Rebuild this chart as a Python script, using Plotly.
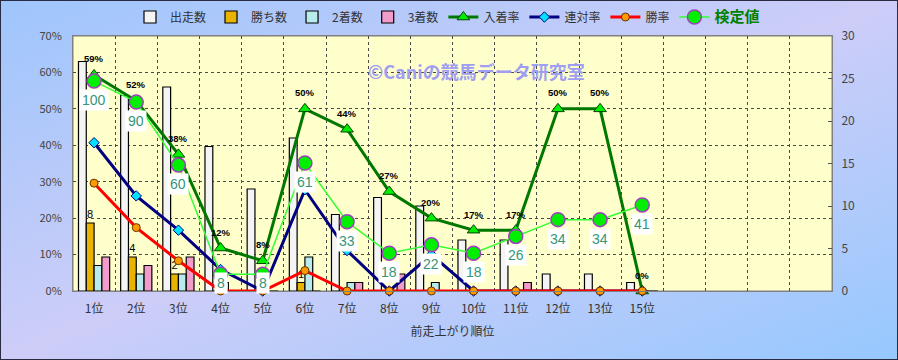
import base64
import plotly.graph_objects as go

# ---------------- data ----------------
categories = ["1位", "2位", "3位", "4位", "5位", "6位", "7位", "8位", "9位",
              "10位", "11位", "12位", "13位", "15位"]
empty_slots = [" ", "  ", "   ", "    "]
starts = [27, 23, 24, 17, 12, 18, 9, 11, 10, 6, 6, 2, 2, 1]
wins = [8, 4, 2, 0, 0, 1, 0, 0, 0, 0, 0, 0, 0, 0]
seconds = [3, 2, 2, 1, 0, 4, 1, 0, 1, 0, 0, 0, 0, 0]
thirds = [4, 3, 4, 0, 0, 0, 1, 2, 0, 0, 1, 0, 0, 0]
place_rate = [59.3, 52.2, 37.5, 11.8, 8.3, 50.0, 44.4, 27.3, 20.0, 16.7, 16.7, 50.0, 50.0, 0.0]
quinella_rate = [40.7, 26.1, 16.7, 5.9, 0.0, 27.8, 11.1, 0.0, 10.0, 0.0, 0.0, 0.0, 0.0, 0.0]
win_rate = [29.6, 17.4, 8.3, 0.0, 0.0, 5.6, 0.0, 0.0, 0.0, 0.0, 0.0, 0.0, 0.0, 0.0]
test_value = [100, 90, 60, 8, 8, 61, 33, 18, 22, 18, 26, 34, 34, 41]

W, H = 898, 360
ML, MR, MT, MB = 73, 66, 36, 69
PW, PH = W - ML - MR, H - MT - MB
TV_MAX = 121.5
JP = "Noto Sans CJK JP"

fig = go.Figure()

bar_common = dict(yaxis="y", marker_line_color="#000000", marker_line_width=1.2)
fig.add_trace(go.Bar(name="出走数", x=categories, y=starts,
                     marker_color="#f4f4f4", **bar_common))
fig.add_trace(go.Bar(name="勝ち数", x=categories, y=wins,
                     marker_color="#e8b400",
                     text=[str(v) if v else "" for v in wins],
                     textposition="outside", constraintext="none", cliponaxis=False,
                     textfont=dict(size=11, color="#000000", family="Liberation Sans"),
                     **bar_common))
fig.add_trace(go.Bar(name="2着数", x=categories, y=seconds,
                     marker_color="#b8ecec", **bar_common))
fig.add_trace(go.Bar(name="3着数", x=categories, y=thirds,
                     marker_color="#f29ccb", **bar_common))

fig.add_trace(go.Scatter(name="入着率", x=categories, y=place_rate, yaxis="y2",
                         mode="lines+markers", cliponaxis=False,
                         line=dict(color="#007800", width=3),
                         marker=dict(symbol="triangle-up", size=11, color="#00ee00",
                                     line=dict(color="#004400", width=1))))
fig.add_trace(go.Scatter(name="連対率", x=categories, y=quinella_rate, yaxis="y2",
                         mode="lines+markers", cliponaxis=False,
                         line=dict(color="#000080", width=3),
                         marker=dict(symbol="diamond", size=8, color="#00e0ff",
                                     line=dict(color="#000080", width=1))))
fig.add_trace(go.Scatter(name="勝率", x=categories, y=win_rate, yaxis="y2",
                         mode="lines+markers", cliponaxis=False,
                         line=dict(color="#ff0000", width=3),
                         marker=dict(symbol="circle", size=8, color="#ff9900",
                                     line=dict(color="#663300", width=1))))
fig.add_trace(go.Scatter(name='<span style="color:#008000;font-size:15px"><b>検定値</b></span>',
                         x=categories, y=test_value, yaxis="y3",
                         mode="lines+markers", cliponaxis=False,
                         line=dict(color="#33ff33", width=1.5),
                         marker=dict(symbol="circle", size=14, color="#00ee00",
                                     line=dict(color="#a040c0", width=1.5))))

annotations = []
for c, v in zip(categories, place_rate):
    annotations.append(dict(x=c, y=v, xref="x", yref="y2", yshift=16,
                            text=f"<b>{v:.0f}%</b>", showarrow=False,
                            font=dict(size=9.5, color="#000000", family="Liberation Sans")))
for c, v in zip(categories, test_value):
    px = v / TV_MAX * PH
    shift = -min(19, px - 8)
    annotations.append(dict(x=c, y=v, xref="x", yref="y3", yshift=shift,
                            text=str(v), showarrow=False, bgcolor="#ffffff",
                            borderpad=2,
                            font=dict(size=14, color="#359677", family="Liberation Sans")))
annotations.append(dict(x=(477 - ML) / PW, y=(MT + PH - 56) / PH, xref="paper", yref="paper",
                        text="<b>©Caniの競馬データ研究室</b>", showarrow=False,
                        font=dict(size=18, color="#9e9ef2", family=JP)))

svg = ('<svg xmlns="http://www.w3.org/2000/svg" width="898" height="360" preserveAspectRatio="none">'
       '<defs><linearGradient id="g" x1="0" y1="0" x2="1" y2="1">'
       '<stop offset="0" stop-color="#9ec6fc"/><stop offset="0.5" stop-color="#cdcdf8"/>'
       '<stop offset="1" stop-color="#96c8fe"/></linearGradient></defs>'
       '<rect width="100%" height="100%" fill="url(#g)"/></svg>')
src = "data:image/svg+xml;base64," + base64.b64encode(svg.encode()).decode()

grid = dict(showgrid=True, gridcolor="#4a4a4a", gridwidth=1, griddash="dot")

fig.update_layout(
    width=W, height=H,
    margin=dict(l=ML, r=MR, t=MT, b=MB, autoexpand=False),
    paper_bgcolor="#c6cbf8", plot_bgcolor="#ffffcc",
    font=dict(family=JP, size=12, color="#333333"),
    barmode="group", bargap=0.26, bargroupgap=0,
    showlegend=True,
    legend=dict(orientation="h", x=(130 - ML) / PW, xanchor="left",
                y=(MT + PH - 17) / PH, yanchor="middle",
                bgcolor="rgba(0,0,0,0)", font=dict(size=12, color="#333333", family=JP),
                traceorder="normal", itemwidth=30),
    xaxis=dict(type="category", categoryarray=categories + empty_slots,
               categoryorder="array", range=[-0.5, 17.5], tickson="boundaries",
               ticks="", showline=True, linecolor="#808080", mirror=True,
               tickfont=dict(size=12, color="#333333"), ticklabelstandoff=7,
               title=dict(text="前走上がり順位", font=dict(size=12, color="#333333"), standoff=12),
               **grid),
    yaxis=dict(side="right", range=[0, 30], dtick=5, showgrid=False, zeroline=False,
               ticks="inside", ticklen=4, tickcolor="#555555",
               tickfont=dict(size=12, color="#444444"), ticklabelstandoff=6,
               showline=True, linecolor="#808080"),
    yaxis2=dict(side="left", overlaying="y", range=[0, 70], dtick=10, ticksuffix="%",
                zeroline=False, ticks="", tickfont=dict(size=11, color="#444444"),
                ticklabelstandoff=8, showline=True, linecolor="#808080", **grid),
    yaxis3=dict(overlaying="y", range=[0, TV_MAX], visible=False),
    annotations=annotations,
    images=[dict(source=src, xref="paper", yref="paper", x=-ML / PW, y=1 + MT / PH,
                 sizex=W / PW, sizey=H / PH, sizing="stretch", layer="below",
                 xanchor="left", yanchor="top")],
    shapes=[
        dict(type="rect", xref="paper", yref="paper", x0=0, x1=1, y0=0, y1=1,
             fillcolor="#ffffcc", line=dict(color="#808080", width=1), layer="below"),
        dict(type="rect", xref="paper", yref="paper", x0=-ML / PW, x1=1 + MR / PW,
             y0=-MB / PH, y1=1 + MT / PH, line=dict(color="#2a2a40", width=2),
             fillcolor="rgba(0,0,0,0)", layer="above"),
    ],
)

fig.write_html("out.html", config={"displayModeBar": False},
               post_script="document.body.style.margin='0';document.body.style.overflow='hidden';")
